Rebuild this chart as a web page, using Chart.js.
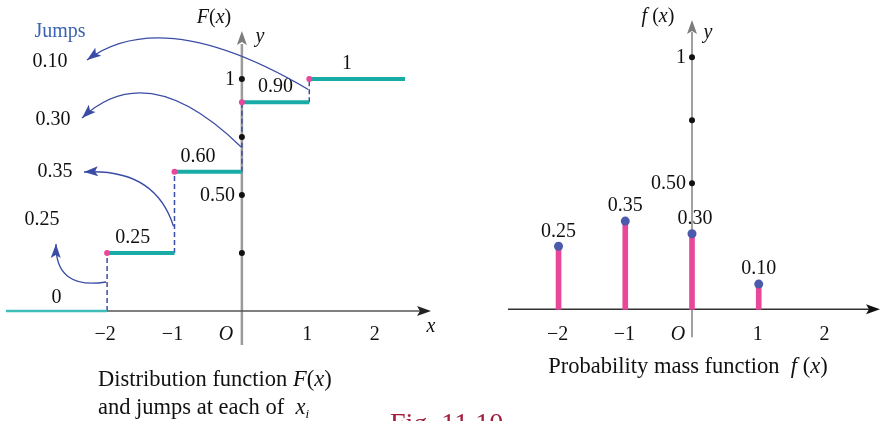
<!DOCTYPE html>
<html>
<head>
<meta charset="utf-8">
<script src="https://cdn.jsdelivr.net/npm/chart.js@4.4.1/dist/chart.umd.min.js"></script>
<style>
  html, body { margin: 0; padding: 0; background: #fff; }
  body { width: 880px; height: 421px; position: relative; overflow: hidden; font-family: 'Liberation Serif', serif; }
  canvas { position: absolute; top: 0; }
  #cdf { left: 0; }
  #pmf { left: 440px; }
  .cap { position: absolute; font-size: 22.5px; line-height: 28px; color: #111; white-space: nowrap; }
  .cap sub { font-size: 13px; line-height: 0; vertical-align: -4px; }
  #fig { position: absolute; left: 390px; top: 409px; font-size: 28px; line-height: 28px; color: #a41e3b; white-space: nowrap; }
</style>
</head>
<body>
<canvas id="cdf" width="440" height="421"></canvas>
<canvas id="pmf" width="440" height="421"></canvas>
<div class="cap" style="left:98px; top:365px;">Distribution function <i>F</i>(<i>x</i>)<br>and jumps at each of &nbsp;<i>x<sub>i</sub></i></div>
<div class="cap" style="left:528px; top:352px; width:320px; text-align:center;">Probability mass function &nbsp;<i>f</i> (<i>x</i>)</div>
<div id="fig">Fig. 11.10</div>
<script>
// DATA
const xVals = [-2, -1, 0, 1];
const cdfVals = [0, 0.25, 0.60, 0.90, 1];
const pmfVals = [0.25, 0.35, 0.30, 0.10];
const stepLabels = ['0', '0.25', '0.60', '0.90', '1'];
const pmfLabels = ['0.25', '0.35', '0.30', '0.10'];
const jumpLabels = ['0.25', '0.35', '0.30', '0.10'];
const xTickVals = [-2, -1, 0, 1, 2];
const xTickLabels = ['\u22122', '\u22121', 'O', '1', '2'];
const cdfDotVals = [0.25, 0.5, 0.75, 1];
const cdfDotLabels = ['', '0.50', '', '1'];
const pmfDotVals = [0.5, 0.75, 1];
const pmfDotLabels = ['0.50', '', '1'];
const stepStart = -3.5;
const stepEnd = 2.42;

const TEAL = '#19aba6';
const PINK = '#e8479a';
const NAVY = '#3a4ca5';
const DOT = '#4b5aab';
const FONT = '"Liberation Serif", serif';

// helpers
function rich(ctx, parts, x, y, align, size) {
    size = size || 20;
    let w = 0;
    parts.forEach(([t, it]) => {
        ctx.font = (it ? 'italic ' : '') + size + 'px ' + FONT;
        w += ctx.measureText(t).width;
    });
    let cx = align === 'center' ? x - w / 2 : align === 'right' ? x - w : x;
    ctx.textAlign = 'left';
    ctx.textBaseline = 'middle';
    parts.forEach(([t, it]) => {
        ctx.font = (it ? 'italic ' : '') + size + 'px ' + FONT;
        ctx.fillText(t, cx, y);
        cx += ctx.measureText(t).width;
    });
}

function arrowHead(ctx, tip, from, len, half, color) {
    const dx = tip[0] - from[0], dy = tip[1] - from[1];
    const d = Math.hypot(dx, dy);
    const ux = dx / d, uy = dy / d;
    const bx = tip[0] - ux * len, by = tip[1] - uy * len;
    ctx.beginPath();
    ctx.moveTo(tip[0], tip[1]);
    ctx.lineTo(bx - uy * half, by + ux * half);
    ctx.lineTo(bx + ux * 3, by + uy * 3);
    ctx.lineTo(bx + uy * half, by - ux * half);
    ctx.closePath();
    ctx.fillStyle = color;
    ctx.fill();
}

// LEFT: distribution function
const stepStarts = [stepStart, ...xVals];
const stepEnds = [...xVals, stepEnd];

const stepSets = cdfVals.map((v, i) => ({
    data: [{x: stepStarts[i], y: v}, {x: stepEnds[i], y: v}],
    showLine: true,
    borderColor: i === 0 ? '#3fbdb8' : TEAL,
    borderWidth: i === 0 ? 2.5 : 4,
    borderCapStyle: 'butt',
    pointRadius: 0,
    order: 2
}));

const jumpSets = xVals.map((x, i) => ({
    data: [{x: x, y: cdfVals[i]}, {x: x, y: cdfVals[i + 1]}],
    showLine: true,
    borderColor: NAVY,
    borderWidth: 1.5,
    borderDash: [5, 3],
    pointRadius: 0,
    order: 3
}));

const cornerSet = {
    data: xVals.map((x, i) => ({x: x, y: cdfVals[i + 1]})),
    showLine: false,
    pointRadius: 3,
    pointBackgroundColor: PINK,
    pointBorderWidth: 0,
    order: 1
};

// curved arrows from each jump to its label (pixel geometry)
const jumpArrows = [
    {t: 0.5, c: [55, 290], e: [56, 244], label: [42, 220]},
    {t: 0.33, c: [155, 168], e: [84, 172], label: [55, 172]},
    {t: 0.36, c: [148, 56], e: [82, 118], label: [53, 120]},
    {t: 0.55, c: [163, 4], e: [87, 60], label: [50, 62]}
];

const cdfDecor = {
    id: 'cdfDecor',
    beforeDatasetsDraw(chart) {
        const {ctx, scales: {x, y}} = chart;
        const x0 = x.getPixelForValue(0), y0 = y.getPixelForValue(0);
        ctx.save();
        ctx.strokeStyle = '#9b9b9b';
        ctx.lineWidth = 2.5;
        ctx.beginPath();
        ctx.moveTo(x0, y0 + 34);
        ctx.lineTo(x0, 44);
        ctx.stroke();
        arrowHead(ctx, [x0, 31], [x0, 60], 14, 5, '#7d7d7d');
        ctx.strokeStyle = '#555';
        ctx.lineWidth = 1.5;
        ctx.beginPath();
        ctx.moveTo(8, y0);
        ctx.lineTo(420, y0);
        ctx.stroke();
        arrowHead(ctx, [431, y0], [400, y0], 14, 5, '#222');
        ctx.restore();
    },
    afterDatasetsDraw(chart) {
        const {ctx, scales: {x, y}} = chart;
        const x0 = x.getPixelForValue(0), y0 = y.getPixelForValue(0);
        ctx.save();
        ctx.fillStyle = '#111';

        // axis dots and labels
        cdfDotVals.forEach((v, i) => {
            const py = y.getPixelForValue(v);
            ctx.fillStyle = '#111';
            ctx.beginPath();
            ctx.arc(x0, py, 3, 0, Math.PI * 2);
            ctx.fill();
            if (cdfDotLabels[i]) rich(ctx, [[cdfDotLabels[i], false]], x0 - 7, py + 1, 'right');
        });

        // x tick labels
        xTickVals.forEach((v, i) => {
            const lbl = xTickLabels[i];
            if (lbl === 'O') rich(ctx, [[lbl, true]], x0 - 16, y0 + 24, 'center');
            else rich(ctx, [[lbl, false]], x.getPixelForValue(v) - 2, y0 + 24, 'center');
        });

        // step value labels
        stepLabels.forEach((lbl, i) => {
            const mid = (stepStarts[i] + stepEnds[i]) / 2;
            const off = i === 1 ? -0.12 : i === 2 ? -0.15 : i === 4 ? -0.15 : 0;
            const lift = i === 0 ? 13 : 15;
            rich(ctx, [[lbl, false]], x.getPixelForValue(mid + off), y.getPixelForValue(cdfVals[i]) - lift, 'center');
        });

        // jump arrows
        jumpArrows.forEach((a, i) => {
            const px = x.getPixelForValue(xVals[i]) - 1;
            const lo = y.getPixelForValue(cdfVals[i]), hi = y.getPixelForValue(cdfVals[i + 1]);
            const py = lo + (hi - lo) * a.t;
            ctx.strokeStyle = NAVY;
            ctx.lineWidth = 1.3;
            ctx.beginPath();
            ctx.moveTo(px, py);
            ctx.quadraticCurveTo(a.c[0], a.c[1], a.e[0], a.e[1]);
            ctx.stroke();
            arrowHead(ctx, a.e, a.c, 14, 5, NAVY);
            ctx.fillStyle = '#111';
            rich(ctx, [[jumpLabels[i], false]], a.label[0], a.label[1], 'center');
        });

        ctx.fillStyle = '#3a63b0';
        rich(ctx, [['Jumps', false]], 60, 32, 'center');
        ctx.fillStyle = '#111';
        rich(ctx, [['F', true], ['(', false], ['x', true], [')', false]], 214, 18, 'center');
        rich(ctx, [['y', true]], 260, 37, 'center');
        rich(ctx, [['x', true]], 431, 327, 'center');
        ctx.restore();
    }
};

new Chart(document.getElementById('cdf').getContext('2d'), {
    type: 'scatter',
    data: {datasets: [cornerSet, ...stepSets, ...jumpSets]},
    options: {
        responsive: false,
        animation: false,
        layout: {padding: {left: 6, right: 9.4, top: 21, bottom: 63.6}},
        plugins: {legend: {display: false}, tooltip: {enabled: false}},
        scales: {
            x: {type: 'linear', min: stepStart, max: 2.8, display: false},
            y: {min: -0.2, max: 1.25, display: false}
        }
    },
    plugins: [cdfDecor]
});

// RIGHT: probability mass function
const pmfDecor = {
    id: 'pmfDecor',
    beforeDatasetsDraw(chart) {
        const {ctx, scales: {x, y}} = chart;
        const x0 = x.getPixelForValue(0), y0 = y.getPixelForValue(0);
        ctx.save();
        ctx.strokeStyle = '#808080';
        ctx.lineWidth = 1.5;
        ctx.beginPath();
        ctx.moveTo(x0, y0 + 28);
        ctx.lineTo(x0, 32);
        ctx.stroke();
        arrowHead(ctx, [x0, 20], [x0, 50], 14, 5, '#7d7d7d');
        ctx.strokeStyle = '#333';
        ctx.lineWidth = 1.5;
        ctx.beginPath();
        ctx.moveTo(68, y0);
        ctx.lineTo(430, y0);
        ctx.stroke();
        arrowHead(ctx, [440, y0], [410, y0], 14, 5, '#111');
        ctx.restore();
    },
    afterDatasetsDraw(chart) {
        const {ctx, scales: {x, y}} = chart;
        const x0 = x.getPixelForValue(0), y0 = y.getPixelForValue(0);
        ctx.save();
        ctx.fillStyle = '#111';
        pmfDotVals.forEach((v, i) => {
            const py = y.getPixelForValue(v);
            ctx.fillStyle = '#111';
            ctx.beginPath();
            ctx.arc(x0, py, 3, 0, Math.PI * 2);
            ctx.fill();
            if (pmfDotLabels[i]) rich(ctx, [[pmfDotLabels[i], false]], x0 - 6, py, 'right');
        });
        xTickVals.forEach((v, i) => {
            const lbl = xTickLabels[i];
            if (lbl === 'O') rich(ctx, [[lbl, true]], x0 - 14, y0 + 25, 'center');
            else rich(ctx, [[lbl, false]], x.getPixelForValue(v) - 1, y0 + 25, 'center');
        });
        pmfLabels.forEach((lbl, i) => {
            rich(ctx, [[lbl, false]], x.getPixelForValue(xVals[i]) + (i === 2 ? 3 : 0), y.getPixelForValue(pmfVals[i]) - 15, 'center');
        });
        rich(ctx, [['f', true], [' (', false], ['x', true], [')', false]], 218, 17, 'center');
        rich(ctx, [['y', true]], 268, 33, 'center');
        ctx.restore();
    }
};

new Chart(document.getElementById('pmf').getContext('2d'), {
    type: 'bar',
    data: {
        datasets: [{
            type: 'scatter',
            data: xVals.map((x, i) => ({x: x, y: pmfVals[i]})),
            pointRadius: 4.5,
            pointBackgroundColor: DOT,
            pointBorderWidth: 0,
            order: 0
        }, {
            type: 'bar',
            data: xVals.map((x, i) => ({x: x, y: pmfVals[i]})),
            backgroundColor: PINK,
            barThickness: 5,
            order: 1
        }]
    },
    options: {
        responsive: false,
        animation: false,
        layout: {padding: {left: 68.5, right: 0, top: 19.5, bottom: 48.7}},
        plugins: {legend: {display: false}, tooltip: {enabled: false}},
        scales: {
            x: {type: 'linear', min: -2.75, max: 2.75, offset: false, display: false},
            y: {min: -0.25, max: 1.15, display: false}
        }
    },
    plugins: [pmfDecor]
});
</script>
</body>
</html>
